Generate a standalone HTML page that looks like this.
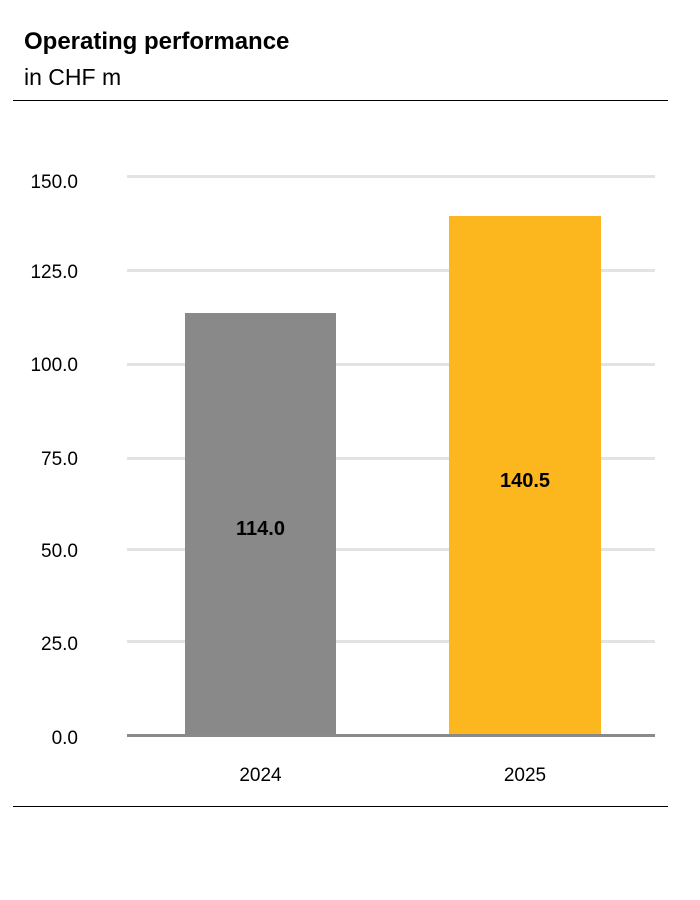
<!DOCTYPE html>
<html><head><meta charset="utf-8"><style>
body{margin:0;background:#fff;width:700px;height:900px;position:relative;font-family:"Liberation Sans","DejaVu Sans",sans-serif;color:#000;overflow:hidden}
.a{position:absolute}
.g{position:absolute;left:127px;width:528px;height:3px;background:#e3e3e3}
.t{position:absolute;right:622px;font-size:19px;line-height:20px}
</style></head><body>
<div class="a" style="left:24px;top:28px;font-size:24px;font-weight:bold">Operating performance</div>
<div class="a" style="left:24px;top:64px;font-size:23px">in CHF m</div>
<div class="a" style="left:13px;top:100px;width:655px;height:1px;background:#000"></div>
<div class="g" style="top:175px"></div>
<div class="g" style="top:269px"></div>
<div class="g" style="top:363px"></div>
<div class="g" style="top:457px"></div>
<div class="g" style="top:548px"></div>
<div class="g" style="top:640px"></div>
<div class="t" style="top:173px">150.0</div>
<div class="t" style="top:263px">125.0</div>
<div class="t" style="top:356px">100.0</div>
<div class="t" style="top:450px">75.0</div>
<div class="t" style="top:542px">50.0</div>
<div class="t" style="top:635px">25.0</div>
<div class="t" style="top:729px">0.0</div>
<div class="a" style="left:185px;top:313px;width:151px;height:422px;background:#898989"></div>
<div class="a" style="left:449px;top:216px;width:152px;height:519px;background:#fdb71e"></div>
<div class="a" style="left:127px;top:734px;width:528px;height:3px;background:#8a8a8a"></div>
<div class="a" style="left:185px;width:151px;top:518px;text-align:center;font-size:20px;font-weight:bold">114.0</div>
<div class="a" style="left:449px;width:152px;top:470px;text-align:center;font-size:20px;font-weight:bold">140.5</div>
<div class="a" style="left:185px;width:151px;top:765px;text-align:center;font-size:19px">2024</div>
<div class="a" style="left:449px;width:152px;top:765px;text-align:center;font-size:19px">2025</div>
<div class="a" style="left:13px;top:806px;width:655px;height:1px;background:#000"></div>
</body></html>
